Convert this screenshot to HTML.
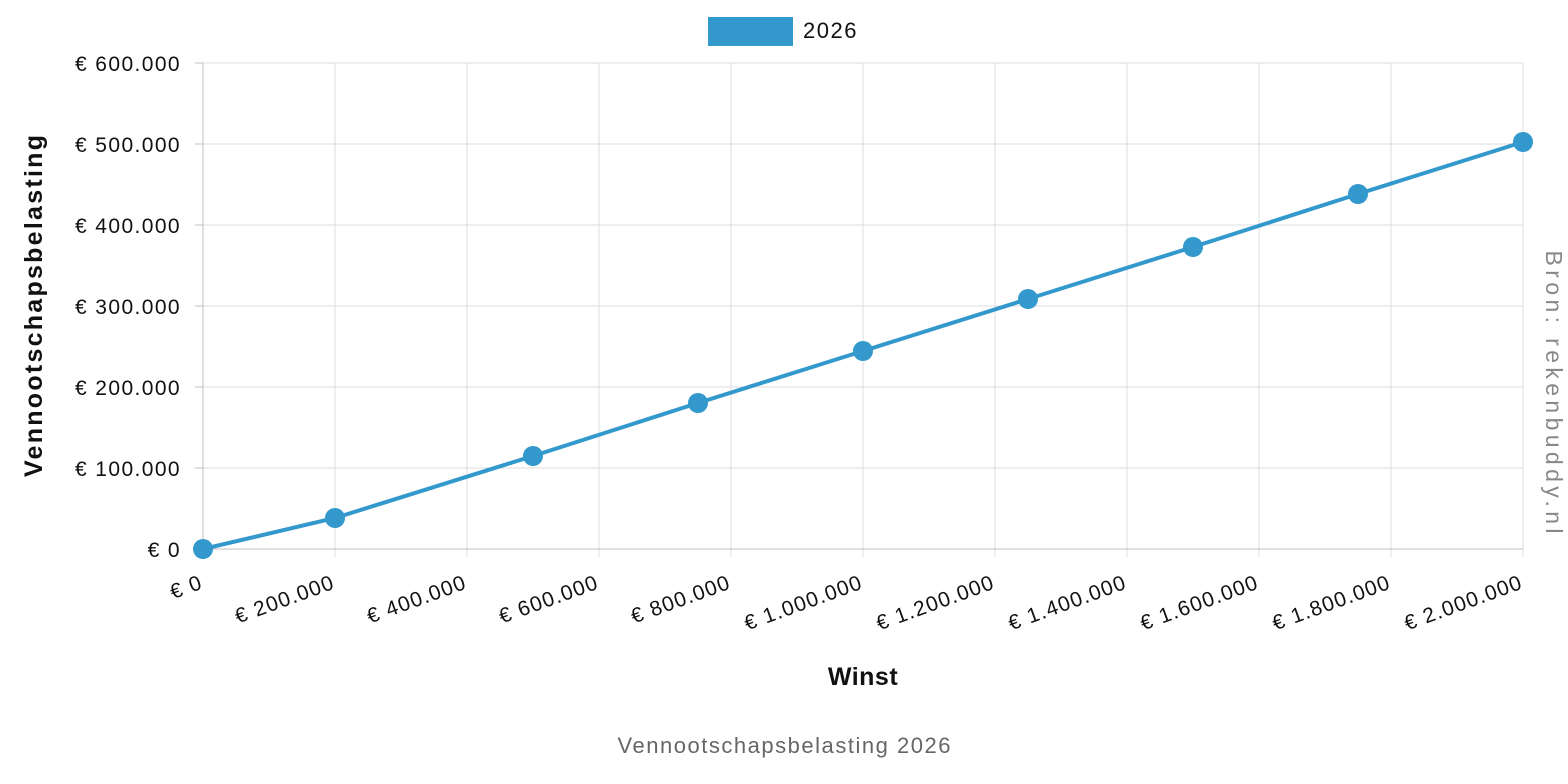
<!DOCTYPE html>
<html><head><meta charset="utf-8"><style>body{margin:0;background:#fff}svg{display:block;font-family:"Liberation Sans",sans-serif}</style></head><body>
<svg width="1568" height="784" viewBox="0 0 1568 784">
<g stroke="#dcdcdc" stroke-width="1">
<line x1="203" y1="63" x2="1523" y2="63"/><line x1="203" y1="144" x2="1523" y2="144"/><line x1="203" y1="225" x2="1523" y2="225"/><line x1="203" y1="306" x2="1523" y2="306"/><line x1="203" y1="387" x2="1523" y2="387"/><line x1="203" y1="468" x2="1523" y2="468"/>
<line x1="335" y1="63" x2="335" y2="557"/><line x1="467" y1="63" x2="467" y2="557"/><line x1="599" y1="63" x2="599" y2="557"/><line x1="731" y1="63" x2="731" y2="557"/><line x1="863" y1="63" x2="863" y2="557"/><line x1="995" y1="63" x2="995" y2="557"/><line x1="1127" y1="63" x2="1127" y2="557"/><line x1="1259" y1="63" x2="1259" y2="557"/><line x1="1391" y1="63" x2="1391" y2="557"/><line x1="1523" y1="63" x2="1523" y2="557"/>
</g>
<g stroke="#c0c0c0"><line x1="203" y1="63" x2="203" y2="557"/><line x1="195" y1="549" x2="1523" y2="549"/>
<line x1="195" y1="63" x2="203" y2="63"/><line x1="195" y1="144" x2="203" y2="144"/><line x1="195" y1="225" x2="203" y2="225"/><line x1="195" y1="306" x2="203" y2="306"/><line x1="195" y1="387" x2="203" y2="387"/><line x1="195" y1="468" x2="203" y2="468"/></g>
<g font-size="21" fill="#111" text-anchor="end" letter-spacing="1.4">
<text x="181" y="71">€ 600.000</text><text x="181" y="152">€ 500.000</text><text x="181" y="233">€ 400.000</text><text x="181" y="314">€ 300.000</text><text x="181" y="395">€ 200.000</text><text x="181" y="476">€ 100.000</text><text x="181" y="557">€ 0</text>
</g>
<g font-size="21" fill="#111" text-anchor="end" letter-spacing="1.2">
<text transform="translate(204,588) rotate(-20)">€ 0</text>
<text transform="translate(336,588) rotate(-20)">€ 200.000</text>
<text transform="translate(468,588) rotate(-20)">€ 400.000</text>
<text transform="translate(600,588) rotate(-20)">€ 600.000</text>
<text transform="translate(732,588) rotate(-20)">€ 800.000</text>
<text transform="translate(864,588) rotate(-20)">€ 1.000.000</text>
<text transform="translate(996,588) rotate(-20)">€ 1.200.000</text>
<text transform="translate(1128,588) rotate(-20)">€ 1.400.000</text>
<text transform="translate(1260,588) rotate(-20)">€ 1.600.000</text>
<text transform="translate(1392,588) rotate(-20)">€ 1.800.000</text>
<text transform="translate(1524,588) rotate(-20)">€ 2.000.000</text>
</g>
<polyline fill="none" stroke="#3399cc" stroke-width="4" points="203,549 335,518 533,456 698,403 863,351 1028,299 1193,247 1358,194 1523,142"/>
<g fill="#3399cc"><circle cx="203" cy="549" r="10"/><circle cx="335" cy="518" r="10"/><circle cx="533" cy="456" r="10"/><circle cx="698" cy="403" r="10"/><circle cx="863" cy="351" r="10"/><circle cx="1028" cy="299" r="10"/><circle cx="1193" cy="247" r="10"/><circle cx="1358" cy="194" r="10"/><circle cx="1523" cy="142" r="10"/></g>
<rect x="708" y="17" width="85" height="29" fill="#3399cc"/>
<text x="803" y="38" font-size="22" fill="#111" letter-spacing="1.5">2026</text>
<text transform="translate(42,306) rotate(-90)" text-anchor="middle" font-size="25" font-weight="bold" fill="#111" textLength="342">Vennootschapsbelasting</text>
<text x="863" y="685" text-anchor="middle" font-size="25" font-weight="bold" fill="#111" letter-spacing="0.5">Winst</text>
<text x="784" y="753" text-anchor="middle" font-size="22" fill="#666" textLength="333">Vennootschapsbelasting 2026</text>
<text transform="translate(1546,392) rotate(90)" text-anchor="middle" font-size="23" fill="#888" textLength="283">Bron: rekenbuddy.nl</text>
</svg>
</body></html>
